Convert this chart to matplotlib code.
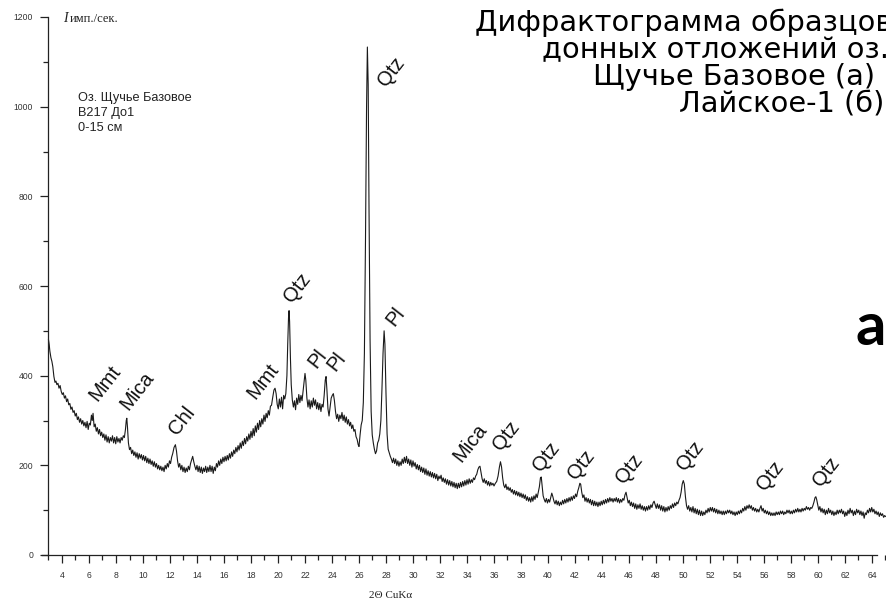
import matplotlib
matplotlib.use("Agg")
import matplotlib.pyplot as plt
from matplotlib.ticker import MultipleLocator

# ---- data ----
two_theta = [
3.00,3.05,3.10,3.18,3.25,3.32,3.40,3.48,3.55,3.62,3.70,3.78,3.86,3.94,
4.02,4.10,4.18,4.26,4.34,4.42,4.50,4.58,4.66,4.74,4.82,4.90,4.98,5.06,5.14,5.22,5.30,5.38,5.46,5.54,5.62,5.70,5.78,5.86,5.94,
6.02,6.10,6.18,6.24,6.30,6.38,6.46,6.54,6.62,6.70,6.78,6.86,6.94,7.02,7.10,7.18,7.26,7.34,7.42,7.50,7.58,7.66,7.74,7.82,7.90,7.98,
8.06,8.14,8.22,8.30,8.38,8.46,8.54,8.62,8.70,8.76,8.80,8.85,8.92,9.00,9.08,9.16,9.24,9.32,9.40,9.48,9.56,9.64,9.72,9.80,9.88,9.96,
10.04,10.12,10.20,10.28,10.36,10.44,10.52,10.60,10.68,10.76,10.84,10.92,11.00,11.08,11.16,11.24,11.32,11.40,11.48,11.56,11.64,11.72,11.80,11.88,11.96,
12.04,12.12,12.20,12.30,12.40,12.48,12.56,12.64,12.72,12.80,12.88,12.96,13.04,13.12,13.20,13.28,13.36,13.44,13.52,13.60,13.68,13.76,13.84,13.92,
14.00,14.08,14.16,14.24,14.32,14.40,14.48,14.56,14.64,14.72,14.80,14.88,14.96,15.04,15.12,15.20,15.28,15.36,15.44,15.52,15.60,15.68,15.76,15.84,15.92,
16.00,16.08,16.16,16.24,16.32,16.40,16.48,16.56,16.64,16.72,16.80,16.88,16.96,17.04,17.12,17.20,17.28,17.36,17.44,17.52,17.60,17.68,17.76,17.84,17.92,
18.00,18.08,18.16,18.24,18.32,18.40,18.48,18.56,18.64,18.72,18.80,18.88,18.96,19.04,19.12,19.20,19.28,19.36,19.44,19.52,19.60,19.70,19.78,19.86,19.94,
20.02,20.10,20.18,20.26,20.34,20.42,20.50,20.58,20.66,20.72,20.78,20.82,20.86,20.92,20.98,21.06,21.14,21.22,21.30,21.38,21.46,21.54,21.62,21.70,21.78,21.86,21.94,
22.00,22.06,22.14,22.22,22.30,22.38,22.46,22.54,22.62,22.70,22.78,22.86,22.94,23.02,23.10,23.18,23.26,23.34,23.42,23.50,23.56,23.62,23.70,23.78,23.86,23.94,
24.02,24.10,24.18,24.26,24.34,24.42,24.50,24.58,24.66,24.74,24.82,24.90,24.98,25.06,25.14,25.22,25.30,25.38,25.46,25.54,25.62,25.70,25.78,25.86,25.94,
26.00,26.08,26.16,26.24,26.32,26.40,26.48,26.56,26.62,26.68,26.74,26.82,26.90,26.98,27.06,27.14,27.22,27.30,27.38,27.46,27.54,27.62,27.70,27.78,27.86,27.92,
28.00,28.08,28.16,28.24,28.32,28.40,28.48,28.56,28.64,28.72,28.80,28.88,28.96,29.04,29.12,29.20,29.28,29.36,29.44,29.52,29.60,29.68,29.76,29.84,29.92,
30.00,30.08,30.16,30.24,30.32,30.40,30.48,30.56,30.64,30.72,30.80,30.88,30.96,31.04,31.12,31.20,31.28,31.36,31.44,31.52,31.60,31.68,31.76,31.84,31.92,
32.00,32.08,32.16,32.24,32.32,32.40,32.48,32.56,32.64,32.72,32.80,32.88,32.96,33.04,33.12,33.20,33.28,33.36,33.44,33.52,33.60,33.68,33.76,33.84,33.92,
34.00,34.08,34.16,34.24,34.32,34.40,34.48,34.56,34.64,34.72,34.80,34.88,34.96,35.04,35.12,35.20,35.28,35.36,35.44,35.52,35.60,35.68,35.76,35.84,35.92,
36.00,36.10,36.20,36.30,36.40,36.48,36.56,36.64,36.72,36.80,36.88,36.96,37.04,37.12,37.20,37.28,37.36,37.44,37.52,37.60,37.68,37.76,37.84,37.92,
38.00,38.08,38.16,38.24,38.32,38.40,38.48,38.56,38.64,38.72,38.80,38.88,38.96,39.04,39.12,39.20,39.28,39.36,39.44,39.50,39.56,39.64,39.72,39.80,39.88,39.96,
40.04,40.12,40.20,40.28,40.36,40.44,40.52,40.60,40.68,40.76,40.84,40.92,41.00,41.08,41.16,41.24,41.32,41.40,41.48,41.56,41.64,41.72,41.80,41.88,41.96,
42.04,42.12,42.20,42.28,42.36,42.42,42.50,42.58,42.66,42.74,42.82,42.90,42.98,43.06,43.14,43.22,43.30,43.38,43.46,43.54,43.62,43.70,43.78,43.86,43.94,
44.02,44.10,44.18,44.26,44.34,44.42,44.50,44.58,44.66,44.74,44.82,44.90,44.98,45.06,45.14,45.22,45.30,45.38,45.46,45.54,45.62,45.70,45.78,45.86,45.94,
46.02,46.10,46.18,46.26,46.34,46.42,46.50,46.58,46.66,46.74,46.82,46.90,46.98,47.06,47.14,47.22,47.30,47.38,47.46,47.54,47.62,47.70,47.78,47.86,47.94,
48.02,48.10,48.18,48.26,48.34,48.42,48.50,48.58,48.66,48.74,48.82,48.90,48.98,49.06,49.14,49.22,49.30,49.38,49.46,49.54,49.62,49.70,49.78,49.86,49.94,
50.02,50.10,50.18,50.26,50.34,50.42,50.50,50.58,50.66,50.74,50.82,50.90,50.98,51.06,51.14,51.22,51.30,51.38,51.46,51.54,51.62,51.70,51.78,51.86,51.94,
52.02,52.10,52.18,52.26,52.34,52.42,52.50,52.58,52.66,52.74,52.82,52.90,52.98,53.06,53.14,53.22,53.30,53.38,53.46,53.54,53.62,53.70,53.78,53.86,53.94,
54.02,54.10,54.18,54.26,54.34,54.42,54.50,54.58,54.66,54.74,54.82,54.90,54.98,55.06,55.14,55.22,55.30,55.38,55.46,55.54,55.62,55.70,55.78,55.86,55.94,
56.02,56.10,56.18,56.26,56.34,56.42,56.50,56.58,56.66,56.74,56.82,56.90,56.98,57.06,57.14,57.22,57.30,57.38,57.46,57.54,57.62,57.70,57.78,57.86,57.94,
58.02,58.10,58.18,58.26,58.34,58.42,58.50,58.58,58.66,58.74,58.82,58.90,58.98,59.06,59.14,59.22,59.30,59.38,59.46,59.54,59.62,59.70,59.78,59.84,59.90,59.98,
60.06,60.14,60.22,60.30,60.38,60.46,60.54,60.62,60.70,60.78,60.86,60.94,61.02,61.10,61.18,61.26,61.34,61.42,61.50,61.58,61.66,61.74,61.82,61.90,61.98,
62.06,62.14,62.22,62.30,62.38,62.46,62.54,62.62,62.70,62.78,62.86,62.94,63.02,63.10,63.18,63.26,63.34,63.42,63.50,63.58,63.66,63.74,63.82,63.90,63.98,
64.06,64.14,64.22,64.30,64.38,64.46,64.54,64.62,64.70,64.78,64.86,64.94,65.00,
]

intensity = [
480,470,455,440,432,420,398,385,388,380,383,372,378,365,
358,362,350,355,342,348,335,338,325,330,318,322,310,316,302,308,296,304,292,300,288,296,284,298,280,
294,290,312,300,316,286,292,276,284,270,280,266,274,262,270,256,268,252,264,250,262,254,266,250,262,248,
264,252,260,250,262,256,266,262,280,300,305,285,250,235,240,226,234,222,230,218,228,214,226,216,224,212,
222,210,220,206,216,204,214,202,210,198,208,196,204,192,200,190,198,188,196,186,200,192,204,196,210,
204,218,226,240,246,232,210,196,204,190,200,186,196,184,194,186,198,190,204,212,220,208,198,190,
200,186,198,184,196,182,194,186,198,184,196,186,200,186,198,182,196,188,204,196,210,200,214,204,218,
208,220,210,222,212,226,216,230,220,234,226,240,230,244,234,250,238,254,244,260,248,264,254,270,258,
276,262,282,266,288,274,294,280,300,286,304,292,312,298,316,306,322,312,332,334,350,368,372,360,336,
326,348,330,352,326,356,348,360,400,470,530,545,520,440,380,346,330,344,324,350,336,358,340,356,344,366,390,
405,390,350,330,346,326,344,330,350,334,346,326,340,324,338,320,336,330,356,390,398,370,326,310,330,350,
356,360,344,320,304,314,298,312,304,318,300,312,296,308,292,302,288,296,282,290,276,280,264,258,246,
242,268,290,300,340,450,700,1000,1133,1050,780,480,320,268,250,236,226,232,250,256,270,300,370,450,500,470,
360,270,236,228,220,214,206,216,204,214,200,210,198,208,200,214,204,218,206,220,204,214,200,212,196,
210,198,206,192,202,190,200,186,196,184,194,180,192,178,188,176,186,174,184,172,182,170,180,166,176,
170,178,164,172,162,170,158,168,156,166,154,164,152,162,150,160,148,160,150,162,152,164,154,166,156,
168,158,170,160,168,162,172,168,176,180,190,196,198,184,170,162,170,160,166,156,164,154,162,156,160,
154,160,164,176,196,208,196,172,156,150,158,146,152,144,150,140,146,136,144,134,142,132,140,130,
138,128,136,126,134,122,130,120,128,118,130,120,132,124,136,128,140,152,172,174,156,132,124,118,126,116,
124,118,128,138,130,120,114,122,112,120,110,118,112,122,114,124,116,126,118,128,120,130,122,132,126,
136,130,142,150,160,158,140,128,134,120,128,118,126,116,124,112,122,110,120,110,118,108,118,110,120,
112,122,114,124,116,126,118,128,120,126,118,126,120,128,118,126,116,124,118,126,122,134,140,128,116,
122,110,118,108,116,104,114,102,112,104,114,102,110,100,108,98,108,100,110,102,112,106,116,120,112,
104,114,104,112,100,110,98,108,96,106,98,108,100,110,104,114,106,116,110,118,114,122,128,140,158,
166,158,130,110,102,110,98,106,96,108,94,104,92,102,90,100,88,98,88,96,90,100,94,104,96,
106,98,106,96,104,94,102,92,100,92,98,90,98,90,98,92,100,94,100,92,98,90,96,88,96,
90,98,92,100,94,104,98,108,100,110,104,112,104,110,100,106,98,104,96,102,96,104,110,98,104,
94,100,92,98,90,96,88,94,88,94,88,96,90,96,90,98,92,98,90,96,92,100,94,100,92,
98,92,100,94,102,96,104,96,102,96,104,98,104,100,108,102,106,100,106,104,110,118,128,130,124,112,
100,108,96,104,94,102,90,100,92,104,94,100,90,98,88,96,90,100,92,100,94,102,92,98,86,
96,88,100,92,104,94,100,88,98,90,102,94,100,90,98,88,96,82,94,90,100,94,104,96,106,
96,102,92,98,90,96,86,94,88,92,84,88,86,
]

x_ticks_major = list(range(4, 65, 2))
y_ticks_major = [0, 200, 400, 600, 800, 1000, 1200]

peak_labels = ["Mmt", "Mica", "Chl", "Mmt", "Qtz", "Pl", "Pl", "Qtz", "Pl",
               "Mica", "Qtz", "Qtz", "Qtz", "Qtz", "Qtz", "Qtz", "Qtz"]
peak_label_x = [7.19, 9.56, 12.89, 18.89, 21.41, 22.96, 24.30, 28.37, 28.74,
                34.22, 36.89, 39.85, 42.44, 46.0, 50.52, 56.44, 60.59]
peak_label_y = [384, 366, 299, 388, 596, 439, 431, 1077, 531,
                250, 265, 219, 201, 192, 221, 176, 185]

title_lines = ["Дифрактограмма образцов", "донных отложений оз.",
               "Щучье Базовое (а) и", "Лайское-1 (б)"]
sample_lines = ["Оз. Щучье Базовое", "B217 До1", "0-15 см"]

# ---- figure ----
W, H = 887, 601
fig = plt.figure(figsize=(W / 100, H / 100), dpi=100)
fig.patch.set_facecolor("white")

def fx(px):
    return px / W

def fy(py):
    return 1 - py / H

ax = fig.add_axes([fx(48.5), fy(555), fx(885.5) - fx(48.5), (555 - 17) / H])
ax.set_facecolor("none")
ax.plot(two_theta, intensity, color="#1a1a1a", lw=0.8, clip_on=False)

ax.set_xlim(3, 65)
ax.set_ylim(0, 1200)
for s in ["top", "right"]:
    ax.spines[s].set_visible(False)
ax.spines["bottom"].set_bounds(2.5, 64.4)
ax.spines["left"].set_bounds(0, 1200)
for s in ["bottom", "left"]:
    ax.spines[s].set_linewidth(0.9)
    ax.spines[s].set_color("#222222")

ax.set_xticks(x_ticks_major)
ax.xaxis.set_minor_locator(MultipleLocator(1))
ax.set_yticks(y_ticks_major)
ax.yaxis.set_minor_locator(MultipleLocator(100))
ax.tick_params(axis="both", which="major", direction="out", length=5.5, width=0.9,
               color="#222222", labelsize=6.2, labelcolor="#333333",
               labelfontfamily="Liberation Sans")
ax.tick_params(axis="both", which="minor", direction="out", length=3.5, width=0.9,
               color="#222222")
ax.tick_params(axis="y", which="major", pad=5.5)
ax.tick_params(axis="x", which="major", pad=6)

for lab, x, y in zip(peak_labels, peak_label_x, peak_label_y):
    ax.text(x, y, lab, rotation=52, ha="center", va="center",
            fontsize=14.5, family="Liberation Sans", color="#111111",
            rotation_mode="anchor")

# axis titles
fig.text(fx(63.5), fy(18), "I", fontsize=10, family="Liberation Serif",
         fontstyle="italic", ha="left", va="center", color="#222222")
fig.text(fx(70), fy(18.5), "имп./сек.", fontsize=9, family="Liberation Serif",
         ha="left", va="center", color="#222222")
fig.text(fx(391), fy(595), "2Θ CuKα", fontsize=8, family="Liberation Serif",
         ha="center", va="center", color="#222222")

# sample info
for i, line in enumerate(sample_lines):
    fig.text(fx(78), fy(98 + 14.8 * i), line, fontsize=9.2,
             family="Liberation Sans", ha="left", va="center", color="#222222")

# title (cropped at the right edge as in the source)
title_x = [475, 542, 593, 679]
title_base = [31, 58, 85, 111]
for line, x, y in zip(title_lines, title_x, title_base):
    fig.text(fx(x), fy(y), line, fontsize=20.8, family="DejaVu Sans",
             ha="left", va="baseline", color="black")

fig.text(fx(856), fy(345), "а", fontsize=43, fontweight="bold",
         family=["Lato", "DejaVu Sans"], ha="left", va="baseline",
         color="black")

fig.savefig("out.png", dpi=100, facecolor="white")
